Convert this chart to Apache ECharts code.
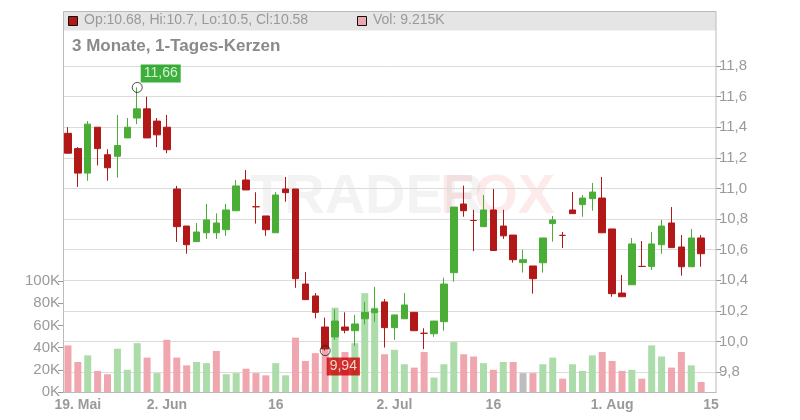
<!DOCTYPE html>
<html><head><meta charset="utf-8">
<script src="https://cdn.jsdelivr.net/npm/echarts@6/dist/echarts.min.js"></script>
<style>html,body{margin:0;padding:0;background:#fff}#c{width:800px;height:420px}</style>
</head><body><div id="c"></div>
<script>
// [open, close, low, high]
const candles = [
[11.36,11.23,11.23,11.40],[11.26,11.10,11.01,11.27],[11.10,11.42,11.05,11.44],[11.40,11.26,11.15,11.40],
[11.22,11.135,11.05,11.256],[11.21,11.28,11.07,11.48],[11.33,11.40,11.33,11.46],[11.46,11.52,11.42,11.66],
[11.52,11.33,11.33,11.60],[11.44,11.35,11.27,11.46],[11.40,11.253,11.23,11.48],[10.996,10.75,10.65,11.016],
[10.754,10.632,10.573,10.754],[10.652,10.715,10.652,10.774],[10.71,10.794,10.67,10.898],[10.71,10.774,10.67,10.837],
[10.73,10.859,10.69,10.898],[10.854,11.016,10.854,11.055],[11.055,10.99,10.99,11.12],[10.88,10.88,10.77,10.975],
[10.82,10.73,10.69,10.82],[10.71,10.957,10.71,10.976],[10.996,10.972,10.913,11.075],[10.996,10.41,10.35,10.996],
[10.375,10.273,10.273,10.454],[10.297,10.19,10.151,10.316],[10.094,9.95,9.94,10.155],[10.029,10.133,10.01,10.21],
[10.094,10.073,10.053,10.19],[10.07,10.114,9.97,10.173],[10.148,10.19,10.112,10.257],[10.188,10.212,10.129,10.357],
[10.258,10.09,9.96,10.277],[10.09,10.173,10.01,10.173],[10.148,10.238,10.148,10.316],[10.19,10.07,10.07,10.19],
[10.053,10.053,9.95,10.086],[10.05,10.133,10.03,10.133],[10.129,10.375,10.07,10.416],[10.449,10.878,10.39,10.878],
[10.898,10.854,10.815,11.018],[10.79,10.79,10.59,10.86],[10.75,10.859,10.75,10.957],[10.859,10.594,10.594,10.996],
[10.754,10.69,10.67,10.86],[10.695,10.534,10.515,10.695],[10.515,10.534,10.45,10.598],[10.493,10.41,10.312,10.493],
[10.514,10.676,10.45,10.676],[10.77,10.794,10.652,10.82],[10.693,10.693,10.61,10.715],[10.859,10.835,10.835,10.976],
[10.894,10.937,10.815,10.957],[10.933,10.976,10.854,11.035],[10.937,10.71,10.71,11.075],[10.735,10.312,10.292,10.735],
[10.316,10.292,10.292,10.434],[10.37,10.637,10.37,10.676],[10.49,10.49,10.49,10.656],[10.49,10.637,10.467,10.715],
[10.632,10.754,10.573,10.794],[10.774,10.613,10.613,10.878],[10.617,10.488,10.43,10.695],[10.488,10.676,10.488,10.735],
[10.676,10.573,10.488,10.695]
];
const volumes = [42,27,33,19,16,39,20,44,31,17,47,31,24,27,26,37,16,17,21,17,15,26,15,49,28,35,38,76,36,44,89,76,
34,38,25,22,36,13,25,45,34,32,26,20,27,27,17,17,25,31,12,25,19,33,36,28,19,20,12,42,32,22,36,24,9];
const categories = [];
for (let i = 0; i < 66; i++) categories.push(String(i));
const dateLabels = {1:'19. Mai',10:'2. Jun',21:'16',33:'2. Jul',43:'16',55:'1. Aug',65:'15'};
const priceTicks = [9.8,10.0,10.2,10.4,10.6,10.8,11.0,11.2,11.4,11.6,11.8];

const RED='#b21818', GREEN='#4aae36';
const volData = volumes.map((v,i)=>{
  let d = i>0 ? Math.round((candles[i][1]-candles[i-1][1])*1000) : -1;
  let c = d>0 ? '#abdcaa' : (d<0 ? '#f0a6ae' : '#bdbdbd');
  return {value:v*1000, itemStyle:{color:c}};
});
const tickIdx = Object.keys(dateLabels).map(Number);
const gray='#9a9a9a';
const chart = echarts.init(document.getElementById('c'));
chart.setOption({
  animation:false,
  grid:[{left:63,right:84,top:66,height:306},{left:63,right:84,top:281,bottom:28}],
  xAxis:[
    {type:'category',data:categories,gridIndex:0,axisLine:{show:false},axisTick:{show:false},axisLabel:{show:false},splitLine:{show:false}},
    {type:'category',data:categories,gridIndex:1,axisLine:{lineStyle:{color:'#aaa'}},
     axisTick:{alignWithLabel:true,interval:(i)=>dateLabels[i]!==undefined,lineStyle:{color:'#999'}},
     axisLabel:{interval:(i)=>dateLabels[i]!==undefined,formatter:(v,i)=>dateLabels[i]||'',color:gray,fontWeight:'bold',fontSize:14,fontFamily:'Liberation Sans, Arial',margin:6},
     splitLine:{show:false}}
  ],
  yAxis:[
    {type:'value',gridIndex:0,position:'right',min:9.8,max:11.8,interval:0.2,
     axisLine:{show:false},axisTick:{show:true,length:5,lineStyle:{color:'#999'}},
     axisLabel:{color:gray,fontSize:15,fontFamily:'Liberation Sans, Arial',margin:3,formatter:v=>v.toFixed(1).replace('.',',')},
     splitLine:{lineStyle:{color:'#dcdcdc'}}},
    {type:'value',gridIndex:1,position:'left',min:0,max:100000,interval:20000,
     axisLine:{show:false},axisTick:{show:true,length:5,lineStyle:{color:'#999'}},
     axisLabel:{color:gray,fontSize:15,fontFamily:'Liberation Sans, Arial',margin:3,formatter:v=>(v/1000)+'K'},
     splitLine:{show:false}}
  ],
  series:[
    {type:'bar',xAxisIndex:1,yAxisIndex:1,data:volData,barWidth:7,z:1},
    {type:'candlestick',xAxisIndex:0,yAxisIndex:0,data:candles,barWidth:7,z:3,
     itemStyle:{color:GREEN,color0:RED,borderColor:GREEN,borderColor0:RED,borderWidth:1},
     markLine:{silent:true,symbol:'none',label:{show:false},lineStyle:{color:'#dcdcdc',type:'solid',width:1},z:0,
       data:tickIdx.map(i=>[{coord:[String(i),9.63]},{coord:[String(i),12.05]}])}},
    {type:'scatter',xAxisIndex:0,yAxisIndex:0,symbol:'circle',symbolSize:10,z:20,
     itemStyle:{color:'rgba(255,255,255,0)',borderColor:'#222',borderWidth:1},
     data:[
      {value:['7',11.66],label:{show:true,formatter:'11,66',position:'right',offset:[-7,-14],backgroundColor:'#0a9a0a',color:'#fff',fontSize:14,padding:[2,3],fontFamily:'Liberation Sans, Arial'}},
      {value:['26',9.94],label:{show:true,formatter:'9,94',position:'right',offset:[-9,16],backgroundColor:'#cc0000',color:'#fff',fontSize:14,padding:[2,3],fontFamily:'Liberation Sans, Arial'}}
     ]}
  ],
  graphic:[
    {type:'text',left:250,top:170,z:0,style:{text:'TRADER',fontSize:56,fontWeight:'bold',fill:'rgba(190,190,190,0.18)',fontFamily:'Liberation Sans, Arial'}},
    {type:'text',left:440,top:170,z:0,style:{text:'FOX',fontSize:56,fontWeight:'bold',fill:'rgba(240,120,130,0.15)',fontFamily:'Liberation Sans, Arial'}},
    {type:'rect',shape:{x:63.5,y:11.5,width:652.5,height:19},style:{fill:'#e5e5e5'},z:-1},
    {type:'rect',shape:{x:63.5,y:11.5,width:652.5,height:381},style:{fill:'none',stroke:'#bbb',lineWidth:1},z:1},
    {type:'rect',shape:{x:68.5,y:16.5,width:9,height:9},style:{fill:RED,stroke:'#111',lineWidth:1},z:1},
    {type:'text',left:84,top:13,z:1,style:{text:'Op:10.68, Hi:10.7, Lo:10.5, Cl:10.58',fontSize:14,fill:'#999',fontFamily:'Liberation Sans, Arial'}},
    {type:'rect',shape:{x:357.5,y:16.5,width:9,height:9},style:{fill:'#f0a6ae',stroke:'#111',lineWidth:1},z:1},
    {type:'text',left:373,top:13,z:1,style:{text:'Vol: 9.215K',fontSize:14,fill:'#999',fontFamily:'Liberation Sans, Arial'}},
    {type:'text',left:72,top:38,z:1,style:{text:'3 Monate, 1-Tages-Kerzen',fontSize:17,fontWeight:'bold',fill:'#8a8a8a',fontFamily:'Liberation Sans, Arial'}}
  ]
});
</script></body></html>
